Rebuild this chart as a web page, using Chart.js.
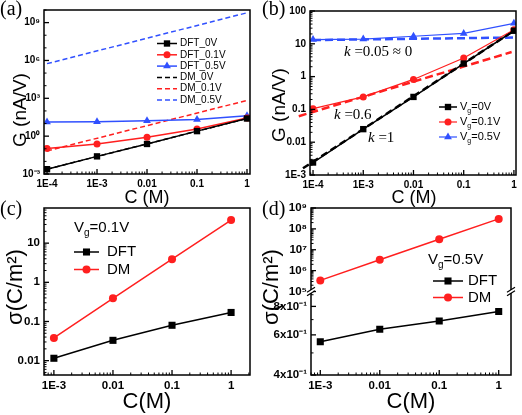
<!DOCTYPE html>
<html><head><meta charset="utf-8">
<script src="https://cdn.jsdelivr.net/npm/chart.js@4/dist/chart.umd.min.js"></script>
<style>
html,body{margin:0;padding:0;background:#fff;}
#wrap{position:relative;width:522px;height:415px;background:#fff;}
canvas{position:absolute;left:0;top:0;}
</style></head><body>
<div id="wrap">
<canvas id="ca" width="522" height="415"></canvas>
<canvas id="cb" width="522" height="415"></canvas>
<canvas id="cc" width="522" height="415"></canvas>
<canvas id="cd" width="522" height="415"></canvas>
</div>
<script>
// ---------------- data ----------------
const concAB = [1e-4, 1e-3, 0.01, 0.1, 1];
const dft0V  = [0.0024, 0.025, 0.24, 2.5, 25];
const dft01V = [0.105, 0.24, 0.82, 3.7, 27];
const dft05V = [13.5, 13.9, 17, 20.7, 42];
// panel (a) drift model lines
const dmAx     = [1e-4, 1];
const dm0V_a   = [0.0024, 25];
const dm01V_a  = [0.068, 680];
const dm05V_a  = [5.6e5, 6.0e9];
// panel (b) fitted lines
const fit0x  = [6.3e-5, 1];     const fit0y  = [0.0016, 25];
const fit01x = [5.2e-5, 0.9];   const fit01y = [0.062, 5.6];
const fit05x = [1e-4, 1];       const fit05y = [13, 15.5];
// panels (c),(d)
const concCD = [1e-3, 0.01, 0.1, 1];
const dftC = [0.0115, 0.033, 0.08, 0.17];
const dmC  = [0.038, 0.39, 3.9, 39];
const dftD = [0.56, 0.635, 0.69, 0.76];
const dmD  = [3.4e5, 3.3e6, 3.2e7, 3.0e8];
// ticks
const xTicksAB = [1e-4, 1e-3, 0.01, 0.1, 1];
const xLabelsAB = ['1E-4', '1E-3', '0.01', '0.1', '1'];
const yTicksA = [1e-3, 1, 1e3, 1e6, 1e9];
const yLabelsA = ['10\u207B\u00B3', '10\u2070', '10\u00B3', '10\u2076', '10\u2079'];
const yTicksB = [1e-3, 0.01, 0.1, 1, 10, 100];
const yLabelsB = ['1E-3', '0.01', '0.1', '1', '10', '100'];
const xTicksCD = [1e-3, 0.01, 0.1, 1];
const xLabelsCD = ['1E-3', '0.01', '0.1', '1'];
const yTicksC = [0.01, 0.1, 1, 10];
const yLabelsC = ['0.01', '0.1', '1', '10'];
const yTicksDtop = [1e5, 1e6, 1e7, 1e8, 1e9];
const yLabelsDtop = ['10\u2075', '10\u2076', '10\u2077', '10\u2078', '10\u2079'];
const yTicksDbot = [0.4, 0.6, 0.8];
const yLabelsDbot = ['4x10\u207B\u00B9', '6x10\u207B\u00B9', '8x10\u207B\u00B9'];

// ---------------- styling helpers ----------------
const SANS = '"Liberation Sans", Arial, sans-serif';
const SERIF = '"Liberation Serif", "Times New Roman", serif';
const BLACK = '#000000', RED = '#ff1f1f', BLUE = '#3050ff';

function near(a, b) { return Math.abs(a - b) <= 1e-9 * Math.max(Math.abs(a), Math.abs(b)); }
function logAxis(min, max, ticks, labels, size, extra) {
  return Object.assign({
    type: 'logarithmic', min: min, max: max,
    grid: { display: false, drawTicks: false },
    border: { display: false },
    afterBuildTicks: s => { s.ticks = ticks.map(v => ({ value: v })); },
    ticks: {
      autoSkip: false, maxRotation: 0, minRotation: 0, color: '#000', padding: 4,
      font: { family: SANS, size: size, weight: 'bold' },
      callback: v => { const i = ticks.findIndex(t => near(t, v)); return i >= 0 ? labels[i] : ''; }
    }
  }, extra || {});
}
function ser(xs, ys, color, style, r, opt) {
  return Object.assign({
    data: xs.map((x, i) => ({ x: x, y: ys[i] })),
    borderColor: color, backgroundColor: color,
    pointBackgroundColor: color, pointBorderColor: color, pointBorderWidth: 0,
    borderWidth: 1.5, pointStyle: style || 'circle', pointRadius: style ? r : 0,
    tension: 0, fill: false
  }, opt || {});
}

function drawRich(ctx, item) {
  ctx.save();
  ctx.translate(item.x, item.y);
  if (item.rot) ctx.rotate(item.rot * Math.PI / 180);
  ctx.textBaseline = 'middle'; ctx.textAlign = 'left'; ctx.fillStyle = '#000';
  let w = 0;
  for (const p of item.parts) { ctx.font = p[1]; w += ctx.measureText(p[0]).width; }
  let x = item.align === 'center' ? -w / 2 : item.align === 'right' ? -w : 0;
  for (const p of item.parts) { ctx.font = p[1]; ctx.fillText(p[0], x, p[2] || 0); x += ctx.measureText(p[0]).width; }
  ctx.restore();
}
function drawMarker(ctx, ds, x, y) {
  const r = ds.pointRadius; if (!r) return;
  ctx.fillStyle = ds.pointBackgroundColor;
  ctx.beginPath();
  if (ds.pointStyle === 'rect') { const s = Math.SQRT1_2 * r; ctx.rect(x - s, y - s, 2 * s, 2 * s); }
  else if (ds.pointStyle === 'triangle') {
    let a = 0;
    for (let k = 0; k < 3; k++) { const px = x + Math.sin(a) * r, py = y - Math.cos(a) * r; k ? ctx.lineTo(px, py) : ctx.moveTo(px, py); a += 2 * Math.PI / 3; }
    ctx.closePath();
  } else { ctx.arc(x, y, r, 0, 2 * Math.PI); }
  ctx.fill();
}

// per-panel decorations (positions only)
const L = (t, f, dy) => [t, f, dy || 0];
const DECO = {
  ca: {
    minor: { x: 'sub', y: 'dec' },
    legend: { x: 157, y: 43.5, dy: 11.3, len: 20, gap: 3, items: [
      [0, [L('DFT_0V', '10px ' + SANS)]], [1, [L('DFT_0.1V', '10px ' + SANS)]], [2, [L('DFT_0.5V', '10px ' + SANS)]],
      [3, [L('DM_0V', '10px ' + SANS)]], [4, [L('DM_0.1V', '10px ' + SANS)]], [5, [L('DM_0.5V', '10px ' + SANS)]]] },
    texts: [
      { x: 0, y: 10, parts: [L('(a)', '20px ' + SERIF)] },
      { x: 21, y: 110, rot: -90, align: 'center', parts: [L('G (nA/V)', '19px ' + SANS)] },
      { x: 147, y: 198, align: 'center', parts: [L('C (M)', '18px ' + SANS)] }
    ]
  },
  cb: {
    minor: { x: 'sub', y: 'sub' },
    legend: { x: 439, y: 107, dy: 15, len: 18, gap: 3, items: [
      [0, [L('V', '11px ' + SANS), L('g', '7px ' + SANS, 4), L('=0V', '11px ' + SANS)]],
      [1, [L('V', '11px ' + SANS), L('g', '7px ' + SANS, 4), L('=0.1V', '11px ' + SANS)]],
      [2, [L('V', '11px ' + SANS), L('g', '7px ' + SANS, 4), L('=0.5V', '11px ' + SANS)]]] },
    texts: [
      { x: 262, y: 10, parts: [L('(b)', '20px ' + SERIF)] },
      { x: 280, y: 105, rot: -90, align: 'center', parts: [L('G (nA/V)', '19px ' + SANS)] },
      { x: 414, y: 198, align: 'center', parts: [L('C (M)', '18px ' + SANS)] },
      { x: 344, y: 52, parts: [L('k', 'italic 15px ' + SERIF), L(' =0.05 \u2248 0', '15px ' + SERIF)] },
      { x: 334, y: 115, parts: [L('k', 'italic 15px ' + SERIF), L(' =0.6', '15px ' + SERIF)] },
      { x: 368, y: 138, parts: [L('k', 'italic 15px ' + SERIF), L(' =1', '15px ' + SERIF)] }
    ]
  },
  cc: {
    minor: { x: 'sub', y: 'sub' },
    legend: { x: 74, y: 252, dy: 17.5, len: 25, gap: 8, items: [
      [1, [L('DFT', '15px ' + SANS)]], [0, [L('DM', '15px ' + SANS)]]] },
    texts: [
      { x: 0, y: 210, parts: [L('(c)', '20px ' + SERIF)] },
      { x: 74, y: 228, parts: [L('V', '15px ' + SANS), L('g', '10px ' + SANS, 5), L('=0.1V', '15px ' + SANS)] },
      { x: 16, y: 287, rot: -90, align: 'center', parts: [L('\u03C3(C/m\u00B2)', '22px ' + SANS)] },
      { x: 147, y: 402, align: 'center', parts: [L('C(M)', '22px ' + SANS)] }
    ]
  },
  cd: {
    minor: { x: 'sub', yTop: 'sub', yBot: 'sub' },
    brk: true,
    legend: { x: 433, y: 281, dy: 16.5, len: 30, gap: 5, items: [
      [1, [L('DFT', '15px ' + SANS)]], [0, [L('DM', '15px ' + SANS)]]] },
    texts: [
      { x: 262, y: 210, parts: [L('(d)', '20px ' + SERIF)] },
      { x: 428, y: 260, parts: [L('V', '15px ' + SANS), L('g', '10px ' + SANS, 5), L('=0.5V', '15px ' + SANS)] },
      { x: 272, y: 287, rot: -90, align: 'center', parts: [L('\u03C3(C/m\u00B2)', '22px ' + SANS)] },
      { x: 411, y: 402, align: 'center', parts: [L('C(M)', '22px ' + SANS)] }
    ]
  }
};

const framePlugin = {
  id: 'frame',
  afterDraw(chart) {
    const d = DECO[chart.canvas.id]; if (!d) return;
    const ctx = chart.ctx, ca = chart.chartArea;
    ctx.save();
    ctx.setLineDash([]);
    ctx.strokeStyle = '#000';
    // inward tick marks
    for (const id in chart.scales) {
      const s = chart.scales[id];
      const majors = s.ticks.map(t => t.value);
      const mode = d.minor[id] || 'sub';
      const minors = [];
      for (let e = Math.floor(Math.log10(s.min)) - 1; e <= Math.ceil(Math.log10(s.max)); e++) {
        if (mode === 'sub') { for (let m = 2; m <= 9; m++) minors.push(m * Math.pow(10, e)); }
        else minors.push(Math.pow(10, e));
      }
      const tick = (v, len) => {
        if (v < s.min * 0.9999 || v > s.max * 1.0001) return;
        const p = s.getPixelForValue(v);
        ctx.beginPath();
        if (s.isHorizontal()) { ctx.moveTo(p, ca.bottom); ctx.lineTo(p, ca.bottom - len); }
        else { ctx.moveTo(s.right, p); ctx.lineTo(s.right + len, p); }
        ctx.stroke();
      };
      ctx.lineWidth = 1;
      minors.forEach(v => { if (!majors.some(m => near(m, v))) tick(v, 2.5); });
      ctx.lineWidth = 1.3;
      majors.forEach(v => tick(v, 5));
    }
    // frame
    ctx.lineWidth = 1.5;
    ctx.strokeRect(ca.left, ca.top, ca.right - ca.left, ca.bottom - ca.top);
    // axis break
    if (d.brk) {
      const yb = chart.scales.yTop.bottom;
      [ca.left, ca.right].forEach(x => {
        ctx.fillStyle = '#fff';
        ctx.fillRect(x - 2, yb - 1.5, 4, 3);
        ctx.lineWidth = 1.2; ctx.strokeStyle = '#000';
        [-1.8, 1.8].forEach(g => {
          ctx.beginPath(); ctx.moveTo(x - 4, yb + g + 2.5); ctx.lineTo(x + 4, yb + g - 2.5); ctx.stroke();
        });
      });
    }
    // legend
    const lg = d.legend;
    lg.items.forEach((it, i) => {
      const ds = chart.data.datasets[it[0]];
      const y = lg.y + i * lg.dy;
      ctx.strokeStyle = ds.borderColor; ctx.lineWidth = ds.borderWidth;
      ctx.setLineDash(ds.borderDash || []);
      ctx.beginPath(); ctx.moveTo(lg.x, y); ctx.lineTo(lg.x + lg.len, y); ctx.stroke();
      ctx.setLineDash([]);
      drawMarker(ctx, ds, lg.x + lg.len / 2, y);
      drawRich(ctx, { x: lg.x + lg.len + lg.gap, y: y, parts: it[1] });
    });
    d.texts.forEach(t => drawRich(ctx, t));
    ctx.restore();
  }
};
Chart.register(framePlugin);

function baseOpts(padding, scales) {
  return {
    responsive: false, animation: false, events: [],
    layout: { padding: padding },
    plugins: { legend: { display: false }, tooltip: { enabled: false } },
    scales: scales
  };
}
const yW = w => ({ afterFit: s => { s.width = w; } });
const xH = h => ({ afterFit: s => { s.height = h; } });

// ---------------- (a) ----------------
new Chart(document.getElementById('ca'), {
  type: 'line',
  data: { datasets: [
    ser(concAB, dft0V, BLACK, 'rect', 4.5),
    ser(concAB, dft01V, RED, 'circle', 3.5),
    ser(concAB, dft05V, BLUE, 'triangle', 4.5),
    ser(dmAx, dm0V_a, BLACK, null, 0, { borderDash: [5, 3] }),
    ser(dmAx, dm01V_a, RED, null, 0, { borderDash: [5, 3] }),
    ser(dmAx, dm05V_a, BLUE, null, 0, { borderDash: [5, 3] })
  ] },
  options: baseOpts({ left: 0, top: 9, right: 272, bottom: 207 }, {
    x: logAxis(8.7e-5, 1.148, xTicksAB, xLabelsAB, 10, xH(34)),
    y: logAxis(1e-3, 1e10, yTicksA, yLabelsA, 10, yW(44))
  })
});

// ---------------- (b) ----------------
new Chart(document.getElementById('cb'), {
  type: 'line',
  data: { datasets: [
    ser(concAB, dft0V, BLACK, 'rect', 4.5),
    ser(concAB, dft01V, RED, 'circle', 3.5, { borderWidth: 1.2 }),
    ser(concAB, dft05V, BLUE, 'triangle', 4.5, { borderWidth: 1.2 }),
    ser(fit0x, fit0y, BLACK, null, 0, { borderDash: [7, 4], borderWidth: 2.5, clip: false }),
    ser(fit01x, fit01y, RED, null, 0, { borderDash: [8, 4], borderWidth: 2.5, clip: false }),
    ser(fit05x, fit05y, BLUE, null, 0, { borderDash: [8, 4], borderWidth: 2.5 })
  ] },
  options: baseOpts({ left: 261, top: 11, right: 6, bottom: 207 }, {
    x: logAxis(8.7e-5, 1.1, xTicksAB, xLabelsAB, 10, xH(33)),
    y: logAxis(1e-3, 100, yTicksB, yLabelsB, 10, yW(49))
  })
});

// ---------------- (c) ----------------
new Chart(document.getElementById('cc'), {
  type: 'line',
  data: { datasets: [
    ser(concCD, dmC, RED, 'circle', 4),
    ser(concCD, dftC, BLACK, 'rect', 5)
  ] },
  options: baseOpts({ left: 0, top: 208, right: 272, bottom: 0 }, {
    x: logAxis(6.8e-4, 2.09, xTicksCD, xLabelsCD, 11.5, xH(40)),
    y: logAxis(0.0043, 79, yTicksC, yLabelsC, 11.5, yW(44))
  })
});

// ---------------- (d) ----------------
new Chart(document.getElementById('cd'), {
  type: 'line',
  data: { datasets: [
    ser(concCD, dmD, RED, 'circle', 4, { yAxisID: 'yTop' }),
    ser(concCD, dftD, BLACK, 'rect', 5, { yAxisID: 'yBot' })
  ] },
  options: baseOpts({ left: 261, top: 208, right: 11, bottom: 0 }, {
    x: logAxis(6.98e-4, 1.61, xTicksCD, xLabelsCD, 11.5, xH(40)),
    yBot: logAxis(0.4, 0.93, yTicksDbot, yLabelsDbot, 11.5, Object.assign({ position: 'left', stack: 'd', stackWeight: 1 }, yW(50))),
    yTop: logAxis(1e5, 1e9, yTicksDtop, yLabelsDtop, 11.5, Object.assign({ position: 'left', stack: 'd', stackWeight: 1 }, yW(50)))
  })
});
</script>
</body></html>
